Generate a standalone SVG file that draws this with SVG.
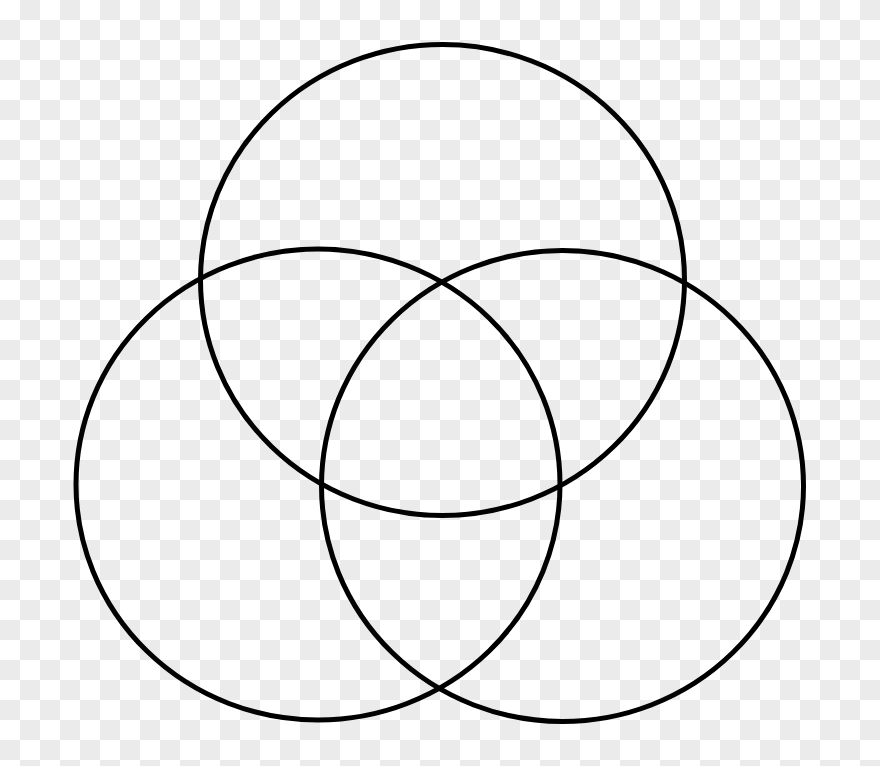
<svg xmlns="http://www.w3.org/2000/svg" width="880" height="766" viewBox="0 0 880 766">
<defs>
<pattern id="checker" x="0" y="0" width="40" height="40" patternUnits="userSpaceOnUse">
<rect width="40" height="40" fill="#ffffff"/>
<rect x="20" y="0" width="20" height="20" fill="#ebebeb"/>
<rect x="0" y="20" width="20" height="20" fill="#ebebeb"/>
</pattern>
<style>.ring{fill:none;stroke:#000;stroke-width:5}</style>
</defs>
<rect width="880" height="766" fill="url(#checker)"/>
<g id="top-circle"><ellipse class="ring" cx="442.5" cy="280" rx="242" ry="235.5"/></g>
<g id="left-circle"><ellipse class="ring" cx="318" cy="484.5" rx="242" ry="235.5"/></g>
<g id="right-circle"><ellipse class="ring" cx="562.5" cy="486" rx="241" ry="235.5"/></g>
</svg>
